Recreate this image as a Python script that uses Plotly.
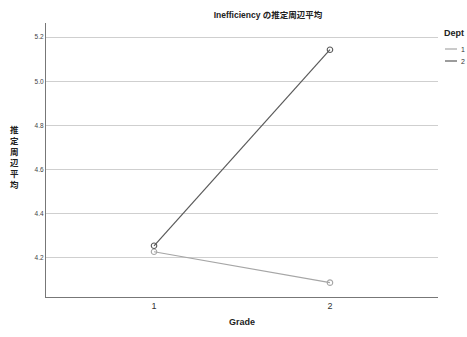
import plotly.graph_objects as go

grades = [1, 2]
dept_names = ["1", "2"]
dept1_values = [4.228, 4.088]
dept2_values = [4.255, 5.143]
y_ticks = [4.2, 4.4, 4.6, 4.8, 5.0, 5.2]
title_text = "Inefficiency の推定周辺平均"
x_title = "Grade"
y_title = "推定周辺平均"
legend_title = "Dept"

FONT = "Liberation Sans, Arial, Noto Sans CJK JP, sans-serif"
W, H = 467, 337
L, R, T, B = 46, 29, 23, 40
PW, PH = W - L - R, H - T - B

def px_x(px):
    return (px - L) / PW

def px_y(py):
    return (H - B - py) / PH

fig = go.Figure()
colors = ["#a6a6a6", "#5a5a5a"]
for name, vals, c in zip(dept_names, [dept1_values, dept2_values], colors):
    fig.add_trace(go.Scatter(
        x=grades, y=vals, name=name, mode="lines+markers", showlegend=False,
        line=dict(color=c, width=1.2),
        marker=dict(symbol="circle-open", size=5.5, color=c, line=dict(width=1.1, color=c)),
    ))

fig.update_layout(
    width=W, height=H,
    margin=dict(l=L, r=R, t=T, b=B, autoexpand=False),
    paper_bgcolor="white", plot_bgcolor="white",
    font=dict(family=FONT, size=7, color="#333"),
    title=dict(text="<b>" + title_text + "</b>", x=268/W, xanchor="center",
               y=1 - 15/H, yanchor="middle", font=dict(size=8.5, color="#222")),
    showlegend=False,
    xaxis=dict(range=[0.386, 2.614], tickvals=grades, ticktext=[str(g) for g in grades],
               showgrid=False, zeroline=False, showline=True, linecolor="#777", linewidth=1.2,
               ticks="", tickfont=dict(size=9, color="#333"),
               title=dict(text="<b>" + x_title + "</b>", font=dict(size=9, color="#222"), standoff=8)),
    yaxis=dict(range=[4.023, 5.264], tickvals=y_ticks, ticktext=[f"{v:.1f}" for v in y_ticks],
               showgrid=True, gridcolor="#cfcfcf", gridwidth=1.2, zeroline=False,
               showline=True, linecolor="#777", linewidth=1.2, ticks="",
               tickfont=dict(size=6.5, color="#444")),
)

fig.add_annotation(
    text="<b>" + "<br>".join(y_title) + "</b>", xref="paper", yref="paper",
    x=px_x(14), y=px_y(157), xanchor="center", yanchor="middle",
    showarrow=False, align="center", font=dict(size=8.5, color="#222"),
)

# custom legend (clipped by the window edge as in the reference)
fig.add_annotation(
    text="<b>" + legend_title + "</b>", xref="paper", yref="paper",
    x=px_x(442), y=px_y(33), xanchor="left", yanchor="middle",
    showarrow=False, font=dict(size=9, color="#222"),
)
for i, (name, c) in enumerate(zip(dept_names, colors)):
    yy = 49 + 12 * i
    fig.add_shape(type="line", xref="paper", yref="paper",
                  x0=px_x(445), x1=px_x(457), y0=px_y(yy), y1=px_y(yy),
                  line=dict(color=c, width=1.2))
    fig.add_annotation(
        text=name, xref="paper", yref="paper",
        x=px_x(459), y=px_y(yy), xanchor="left", yanchor="middle",
        showarrow=False, font=dict(size=7, color="#333"),
    )

fig.write_html("out.html")
